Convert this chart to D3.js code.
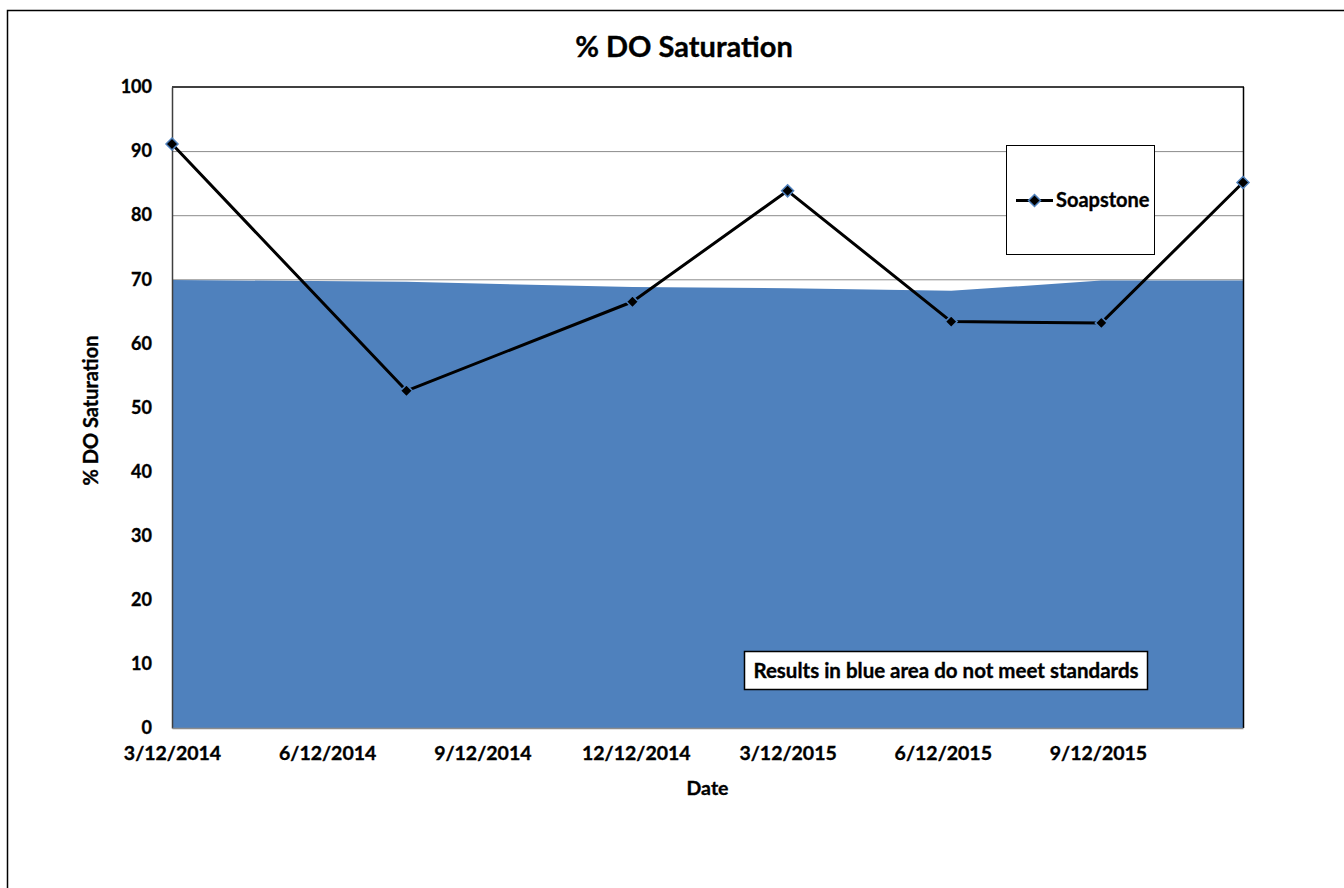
<!DOCTYPE html>
<html>
<head>
<meta charset="utf-8">
<script src="https://cdn.jsdelivr.net/npm/d3@7"></script>
<style>
  body { margin: 0; background: #fff; }
  svg { display: block; }
  text { font-family: Lato, "Open Sans", sans-serif; font-weight: bold; fill: #000; stroke: #000; stroke-width: 0.35px; }
</style>
</head>
<body>
<svg id="chart" width="1344" height="888"></svg>
<script>
// Sampling dates and % DO saturation readings at Soapstone
const sampleDates = ["2014-03-12", "2014-07-29", "2014-12-10", "2015-03-12", "2015-06-17", "2015-09-14", "2015-12-07"];
const soapstone = [91.1, 52.6, 66.5, 83.8, 63.4, 63.2, 85.1];

// Minimum saturation standard at each sampling date (shaded region)
const standard = [69.9, 69.6, 68.8, 68.6, 68.2, 69.8, 69.8];

// Axis ticks
const xTickLabels = ["3/12/2014", "6/12/2014", "9/12/2014", "12/12/2014", "3/12/2015", "6/12/2015", "9/12/2015"];
const yTicks = [0, 10, 20, 30, 40, 50, 60, 70, 80, 90, 100];

const parseIso = d3.timeParse("%Y-%m-%d");
const parseTick = d3.timeParse("%m/%d/%Y");
const fmtTick = d3.timeFormat("%-m/%-d/%Y");

const dates = sampleDates.map(parseIso);
const series = dates.map((d, i) => ({ date: d, value: soapstone[i] }));
const stdSeries = dates.map((d, i) => ({ date: d, value: standard[i] }));

const plot = { left: 172, top: 87, right: 1243, bottom: 728 };

const svg = d3.select("#chart");

// outer frame
svg.append("rect")
  .attr("x", 7.5).attr("y", 10.5)
  .attr("width", 1400).attr("height", 1000)
  .attr("fill", "none").attr("stroke", "#000").attr("stroke-width", 1.5);

const x = d3.scaleTime()
  .domain([dates[0], dates[dates.length - 1]])
  .range([plot.left, plot.right]);

const y = d3.scaleLinear()
  .domain([0, 100])
  .range([plot.bottom, plot.top]);

// gridlines
svg.append("g")
  .selectAll("line")
  .data(yTicks.filter(t => t > 0 && t < 100))
  .join("line")
  .attr("x1", plot.left).attr("x2", plot.right)
  .attr("y1", d => y(d) + 0.5).attr("y2", d => y(d) + 0.5)
  .attr("stroke", "#8c8c8c").attr("stroke-width", 1);

// shaded area below the standard
const area = d3.area()
  .x(d => x(d.date))
  .y0(y(0))
  .y1(d => y(d.value));

svg.append("path")
  .datum(stdSeries)
  .attr("d", area)
  .attr("fill", "#4f81bd");

// plot border (top and right)
svg.append("line")
  .attr("x1", plot.left).attr("x2", plot.right + 1)
  .attr("y1", plot.top).attr("y2", plot.top)
  .attr("stroke", "#000").attr("stroke-width", 1.5);
svg.append("line")
  .attr("x1", plot.right + 0.5).attr("x2", plot.right + 0.5)
  .attr("y1", plot.top).attr("y2", plot.bottom)
  .attr("stroke", "#000").attr("stroke-width", 1.5);

// y axis
const yAxis = d3.axisLeft(y).tickValues(yTicks).tickSize(0).tickPadding(20);
const gy = svg.append("g").attr("transform", `translate(${plot.left},0)`).call(yAxis);
gy.select(".domain").attr("stroke", "#3f3f3f").attr("stroke-width", 1.5);
gy.selectAll("text").style("font-size", "18px").style("font-family", "Lato, sans-serif").style("font-weight", "bold").attr("fill", "#000");

// x axis
const xAxis = d3.axisBottom(x)
  .tickValues(xTickLabels.map(parseTick))
  .tickFormat(fmtTick)
  .tickSize(0).tickPadding(18);
const gx = svg.append("g").attr("transform", `translate(0,${plot.bottom})`).call(xAxis);
gx.select(".domain").attr("stroke", "#8c8c8c").attr("stroke-width", 1.5);
gx.selectAll("text").style("font-size", "19.5px").style("font-family", "Lato, sans-serif").style("font-weight", "bold").attr("fill", "#000");

// data line
const line = d3.line()
  .x(d => x(d.date))
  .y(d => y(d.value));

svg.append("path")
  .datum(series)
  .attr("d", line)
  .attr("fill", "none")
  .attr("stroke", "#000")
  .attr("stroke-width", 3)
  .attr("stroke-linejoin", "round");

const diamond = r => `M0,${-r}L${r},0L0,${r}L${-r},0Z`;

svg.append("g")
  .selectAll("path")
  .data(series)
  .join("path")
  .attr("transform", d => `translate(${x(d.date)},${y(d.value)})`)
  .attr("d", diamond(6))
  .attr("fill", "#000")
  .attr("stroke", "#4f81bd")
  .attr("stroke-width", 1.5);

// title
svg.append("text")
  .attr("x", 684).attr("y", 57)
  .attr("text-anchor", "middle")
  .style("font-size", "29px")
  .text("% DO Saturation");

// axis titles
svg.append("text")
  .attr("x", (plot.left + plot.right) / 2).attr("y", 795)
  .attr("text-anchor", "middle")
  .style("font-size", "19.5px")
  .text("Date");

svg.append("text")
  .attr("transform", `translate(98,${(plot.top + plot.bottom) / 2 + 3}) rotate(-90)`)
  .attr("text-anchor", "middle")
  .style("font-size", "20px")
  .text("% DO Saturation");

// legend
const legend = svg.append("g");
legend.append("rect")
  .attr("x", 1006.5).attr("y", 145.5)
  .attr("width", 148).attr("height", 109)
  .attr("fill", "#fff").attr("stroke", "#000").attr("stroke-width", 1);
legend.append("line")
  .attr("x1", 1016).attr("x2", 1053)
  .attr("y1", 200.5).attr("y2", 200.5)
  .attr("stroke", "#000").attr("stroke-width", 3);
legend.append("path")
  .attr("transform", "translate(1034.5,200.5)")
  .attr("d", diamond(6))
  .attr("fill", "#000").attr("stroke", "#4f81bd").attr("stroke-width", 1.5);
legend.append("text")
  .attr("x", 1056).attr("y", 207)
  .style("font-size", "20px")
  .text("Soapstone");

// note box
const note = svg.append("g");
note.append("rect")
  .attr("x", 744.5).attr("y", 651.5)
  .attr("width", 403).attr("height", 38)
  .attr("fill", "#fff").attr("stroke", "#000").attr("stroke-width", 1.5);
note.append("text")
  .attr("x", 946).attr("y", 678)
  .attr("text-anchor", "middle")
  .style("font-size", "20.5px")
  .text("Results in blue area do not meet standards");
</script>
</body>
</html>
